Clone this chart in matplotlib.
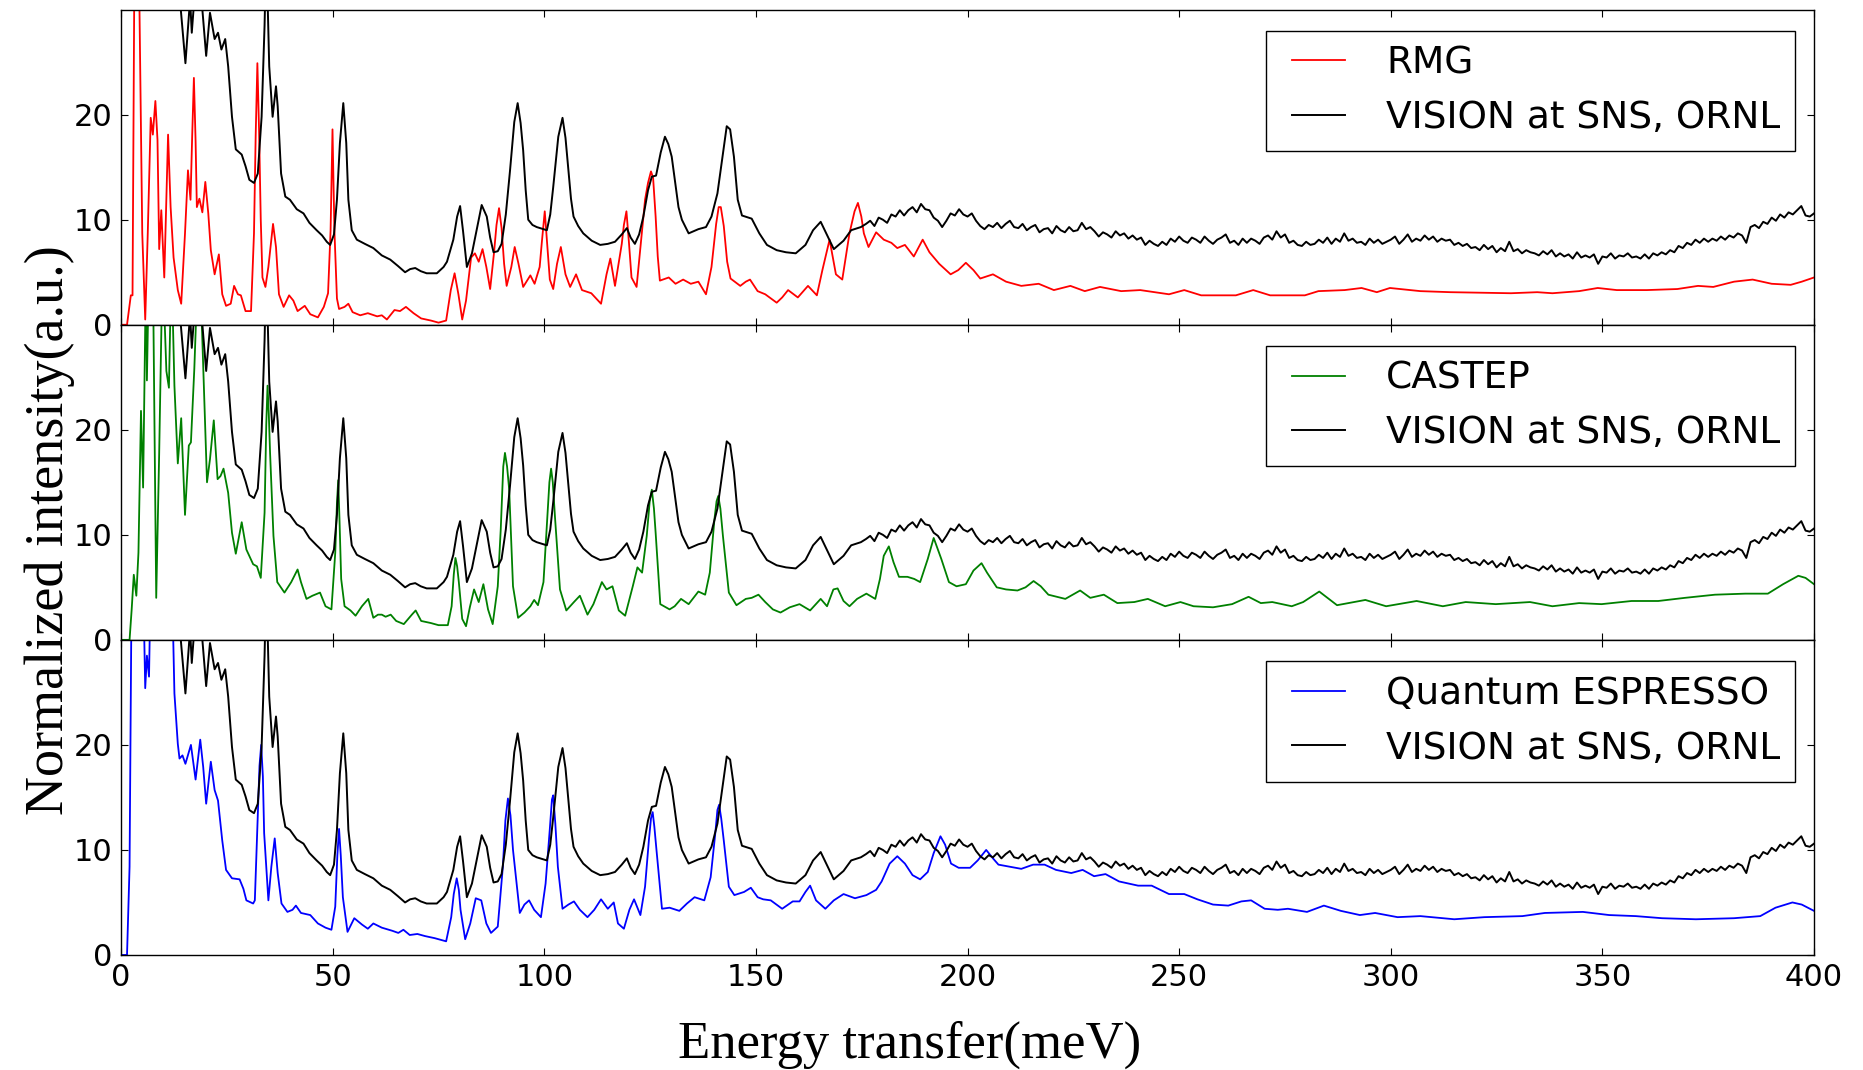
import matplotlib
matplotlib.use("Agg")
import matplotlib.pyplot as plt

# ---------------------------------------------------------------------------
# Measured INS spectrum (VISION at SNS, ORNL): (energy meV, intensity a.u.)
# ---------------------------------------------------------------------------
vision_low = [
    (12.5, 40.0), (14.0, 30.5), (15.2, 24.9), (16.3, 31.0), (16.7, 27.8), (17.3, 31.0),
    (19.0, 31.0), (20.1, 25.6), (21.0, 29.7), (22.1, 27.2), (22.9, 27.8), (23.7, 26.2),
    (24.6, 27.2), (25.3, 24.6), (26.2, 19.8), (27.1, 16.7), (28.5, 16.2), (29.4, 15.1),
    (30.3, 13.8), (31.4, 13.5), (32.3, 14.4), (33.2, 19.8), (33.9, 28.5), (34.3, 36.0),
    (35.0, 24.6), (35.8, 19.8), (36.6, 22.7), (37.0, 20.8), (37.8, 14.4), (38.8, 12.2),
    (39.9, 11.9), (41.5, 11.0), (43.1, 10.6), (44.5, 9.7), (46.2, 9.0), (47.5, 8.5),
    (48.6, 7.9), (49.4, 7.6), (50.3, 8.6), (51.0, 11.9), (51.7, 17.3), (52.5, 21.1),
    (53.2, 17.3), (53.7, 11.9), (54.5, 9.0), (55.7, 8.1), (57.6, 7.7), (59.6, 7.3),
    (61.6, 6.6), (63.6, 6.2), (65.4, 5.6), (67.1, 5.0), (68.3, 5.3), (69.5, 5.4),
    (70.8, 5.1), (72.2, 4.9), (74.6, 4.9), (76.2, 5.5), (77.0, 6.0), (78.5, 8.1),
    (79.4, 10.3), (80.1, 11.3), (80.8, 8.9), (81.7, 5.5), (82.9, 6.8), (84.0, 9.0),
    (85.2, 11.4), (86.4, 10.3), (87.2, 8.3), (88.0, 6.9), (89.0, 7.0), (89.9, 7.7),
    (90.9, 10.5), (91.9, 14.7), (92.9, 19.3), (93.7, 21.1), (94.4, 19.2), (95.0, 16.6),
    (95.6, 12.8), (96.2, 10.0), (97.2, 9.5), (98.2, 9.3), (100.6, 9.0), (101.4, 10.5),
    (102.1, 13.1), (103.3, 17.9), (104.3, 19.7), (105.0, 17.8), (105.7, 14.7), (106.3, 12.0),
    (106.9, 10.3), (108.0, 9.4), (109.2, 8.7), (111.2, 8.0), (113.2, 7.6), (115.0, 7.7),
    (116.7, 7.9), (118.3, 8.6), (119.5, 9.2), (120.4, 8.3), (121.4, 7.7), (122.4, 8.6),
    (123.4, 10.3), (124.5, 12.8), (125.4, 14.1), (126.4, 14.2), (127.5, 16.4), (128.5, 17.9),
    (129.3, 17.2), (130.1, 16.0), (130.9, 13.6), (131.7, 11.2), (132.5, 10.0), (134.1, 8.7),
    (136.4, 9.1), (138.2, 9.3), (139.5, 10.3), (140.9, 12.5), (142.0, 15.7), (143.1, 18.9),
    (143.9, 18.6), (144.8, 16.0), (145.7, 11.9), (146.7, 10.4), (149.0, 10.1), (150.8, 8.7),
    (152.6, 7.6), (154.9, 7.1), (157.1, 6.9), (159.4, 6.8), (161.7, 7.6), (163.5, 9.0),
    (165.3, 9.8), (166.6, 8.7), (168.4, 7.2), (170.7, 8.0), (172.5, 9.0), (174.8, 9.3),
]

# 1 meV bins from 176 to 400 meV
vision_high_e = list(range(176, 401))
vision_high_i = [
    9.6, 9.9, 9.4, 10.2, 10.0, 9.7, 10.5, 10.3, 10.9, 10.4,
    10.9, 11.2, 10.7, 11.5, 11.0, 10.9, 10.2, 9.9, 9.3, 9.9,
    10.6, 10.4, 11.0, 10.5, 10.3, 10.6, 9.9, 9.4, 9.1, 9.5,
    9.3, 9.7, 9.2, 9.6, 9.9, 9.3, 9.2, 9.6, 9.0, 9.3,
    9.5, 8.8, 9.1, 9.2, 8.7, 9.4, 9.0, 8.8, 9.3, 8.9,
    9.0, 9.7, 9.1, 9.3, 8.9, 8.4, 8.8, 8.6, 8.3, 8.9,
    8.5, 8.7, 8.2, 8.5, 8.1, 8.3, 7.6, 8.0, 7.7, 7.5,
    7.9, 7.6, 8.2, 7.9, 8.4, 8.0, 7.8, 8.3, 8.1, 7.8,
    8.4, 8.0, 7.7, 8.1, 8.3, 8.6, 7.8, 8.0, 7.6, 8.2,
    7.8, 8.2, 8.0, 7.7, 8.3, 8.5, 8.1, 8.9, 8.3, 8.6,
    7.8, 8.0, 7.6, 7.5, 7.9, 7.6, 7.7, 8.1, 7.8, 8.3,
    7.7, 8.2, 7.9, 8.7, 8.0, 8.2, 7.8, 7.9, 7.6, 8.2,
    7.8, 8.1, 7.7, 7.9, 8.1, 8.4, 7.7, 8.1, 8.6, 7.9,
    8.2, 8.0, 8.5, 8.1, 8.4, 7.9, 8.2, 8.0, 8.1, 7.6,
    7.8, 7.5, 7.7, 7.3, 7.4, 7.1, 7.6, 7.2, 7.5, 6.9,
    7.3, 7.0, 7.9, 7.0, 7.2, 6.8, 7.1, 6.9, 6.8, 6.6,
    7.0, 6.7, 7.1, 6.5, 6.8, 6.5, 6.7, 6.3, 6.9, 6.4,
    6.6, 6.4, 6.7, 5.8, 6.5, 6.4, 6.8, 6.3, 6.6, 6.5,
    6.8, 6.4, 6.5, 6.3, 6.7, 6.3, 6.8, 6.6, 6.9, 6.7,
    7.1, 6.9, 7.5, 7.3, 7.8, 7.6, 8.1, 7.8, 8.2, 7.9,
    8.2, 8.0, 8.4, 8.1, 8.5, 8.3, 8.7, 8.5, 7.8, 9.3,
    9.5, 9.2, 9.8, 9.6, 10.2, 9.9, 10.5, 10.2, 10.7, 10.5,
    10.9, 11.3, 10.4, 10.3, 10.6]

# ---------------------------------------------------------------------------
# Simulated spectra: (energy meV, intensity a.u.)
# ---------------------------------------------------------------------------
rmg = [
    (0.0, 0.0), (1.4, 0.0), (2.3, 2.8), (2.7, 2.8), (3.2, 38.0), (4.1, 38.0), (5.0, 8.7),
    (5.7, 0.5), (6.3, 8.7), (7.0, 19.7), (7.5, 18.1), (8.1, 21.3), (8.6, 17.6), (9.0, 7.2),
    (9.5, 10.9), (10.2, 4.5), (11.1, 18.1), (11.7, 11.2), (12.4, 6.4), (13.4, 3.3),
    (14.2, 2.0), (15.1, 8.7), (15.8, 14.7), (16.4, 11.9), (16.8, 18.0), (17.2, 23.5),
    (17.6, 17.5), (17.9, 11.2), (18.5, 12.0), (19.2, 10.7), (19.9, 13.6), (20.6, 10.6),
    (21.2, 7.1), (22.1, 4.8), (23.1, 6.7), (23.9, 2.9), (24.8, 1.8), (25.9, 2.0),
    (26.7, 3.7), (27.6, 2.9), (28.3, 2.8), (29.4, 1.3), (30.7, 1.3), (31.4, 8.7),
    (31.8, 18.0), (32.2, 24.9), (32.6, 18.5), (33.0, 10.0), (33.4, 4.5), (34.1, 3.6),
    (34.8, 5.5), (35.9, 9.6), (36.6, 7.4), (37.3, 2.9), (38.4, 1.7), (39.7, 2.8),
    (40.7, 2.3), (41.7, 1.3), (43.4, 1.8), (44.7, 1.0), (46.5, 0.7), (47.9, 1.7),
    (48.9, 3.0), (49.5, 9.0), (49.95, 18.6), (50.4, 9.0), (51.0, 2.5), (51.5, 1.5),
    (52.8, 1.7), (53.7, 2.0), (54.7, 1.2), (56.5, 0.9), (58.3, 1.1), (60.5, 0.8),
    (61.6, 0.9), (62.8, 0.5), (64.6, 1.4), (65.9, 1.3), (67.3, 1.7), (69.1, 1.1),
    (70.9, 0.6), (73.2, 0.4), (75.0, 0.2), (76.8, 0.4), (77.9, 3.3), (78.8, 4.9),
    (79.7, 2.9), (80.6, 0.5), (81.5, 2.3), (82.7, 6.4), (83.6, 6.8), (84.5, 6.0),
    (85.4, 7.2), (86.3, 5.5), (87.2, 3.4), (88.1, 6.8), (88.7, 9.5), (89.3, 11.1),
    (89.9, 9.2), (90.5, 5.8), (91.1, 3.7), (92.2, 5.5), (93.0, 7.4), (93.9, 5.8),
    (95.0, 3.6), (96.7, 4.7), (97.7, 3.9), (98.9, 5.5), (99.4, 7.8), (100.1, 10.8),
    (100.7, 7.5), (101.3, 4.3), (102.1, 3.4), (103.0, 5.8), (103.9, 7.4), (105.0, 4.8),
    (106.1, 3.6), (107.5, 4.8), (108.9, 3.3), (111.1, 3.0), (113.4, 2.0), (114.7, 4.8),
    (115.6, 6.3), (116.7, 3.7), (118.3, 7.7), (118.8, 9.5), (119.4, 10.8), (120.0, 7.8),
    (120.6, 4.5), (121.8, 3.6), (123.8, 11.9), (124.5, 13.5), (125.2, 14.6), (125.7, 14.0),
    (126.3, 10.3), (126.8, 6.5), (127.3, 4.2), (129.4, 4.5), (131.0, 3.9), (132.8, 4.3),
    (134.6, 3.9), (136.4, 4.1), (138.2, 2.9), (139.5, 5.5), (140.6, 9.6), (141.2, 11.2),
    (141.7, 11.2), (142.4, 9.4), (143.2, 6.0), (144.0, 4.4), (146.3, 3.7), (147.6, 4.1),
    (148.6, 4.3), (150.4, 3.2), (152.2, 2.9), (154.9, 2.1), (156.2, 2.6), (157.6, 3.3),
    (159.9, 2.6), (162.3, 3.7), (164.4, 2.8), (165.7, 5.2), (167.4, 8.1), (168.9, 4.8),
    (170.4, 4.3), (172.1, 8.7), (173.3, 10.8), (174.1, 11.6), (174.9, 10.3), (175.5, 8.7),
    (176.6, 7.4), (178.4, 8.8), (180.2, 8.1), (182.0, 7.8), (183.4, 7.3), (185.2, 7.6),
    (187.3, 6.5), (189.4, 8.1), (191.0, 6.9), (193.3, 5.8), (196.0, 4.8), (197.8, 5.2),
    (199.6, 5.9), (201.4, 5.2), (203.0, 4.4), (206.0, 4.8), (209.1, 4.1), (212.7, 3.7),
    (216.8, 3.9), (220.4, 3.3), (224.3, 3.7), (227.7, 3.2), (231.3, 3.6), (236.3, 3.2),
    (240.8, 3.3), (247.6, 2.9), (251.2, 3.3), (255.2, 2.8), (258.9, 2.8), (263.4, 2.8),
    (267.5, 3.3), (271.5, 2.8), (279.7, 2.8), (282.9, 3.2), (289.1, 3.3), (293.1, 3.5),
    (296.7, 3.1), (299.8, 3.5), (307.0, 3.2), (314.1, 3.1), (328.4, 3.0), (334.6, 3.1),
    (338.2, 3.0), (344.5, 3.2), (348.9, 3.5), (353.4, 3.3), (360.5, 3.3), (367.7, 3.4),
    (372.6, 3.7), (376.2, 3.6), (381.1, 4.1), (385.5, 4.3), (390.0, 3.9), (394.5, 3.8),
    (397.1, 4.1), (400.0, 4.5),
]

castep = [
    (0.0, 0.0), (2.0, 0.0), (2.5, 2.9), (3.0, 6.2), (3.6, 4.2), (4.1, 8.3), (4.7, 21.8),
    (5.2, 14.5), (5.9, 36.0), (6.1, 24.7), (6.6, 36.0), (7.5, 36.0), (8.3, 4.0),
    (9.0, 17.8), (9.8, 36.0), (10.7, 25.6), (11.3, 24.0), (11.9, 36.0), (12.6, 24.2),
    (13.4, 16.8), (14.2, 21.1), (15.1, 11.9), (16.0, 18.5), (16.5, 18.8), (17.3, 25.8),
    (18.2, 36.0), (19.0, 31.0), (20.3, 15.0), (21.0, 17.2), (21.9, 20.9), (22.8, 15.3),
    (23.5, 15.6), (24.2, 16.3), (25.3, 14.0), (26.2, 10.2), (27.1, 8.2), (28.5, 11.2),
    (29.6, 8.6), (31.2, 7.2), (32.1, 7.0), (33.0, 5.9), (33.9, 12.1), (34.3, 20.5),
    (34.6, 24.2), (34.9, 21.5), (35.2, 17.8), (36.0, 9.9), (36.9, 5.5), (38.6, 4.5),
    (40.2, 5.5), (41.7, 6.7), (42.5, 5.5), (43.8, 3.9), (45.2, 4.2), (47.0, 4.5),
    (48.3, 3.2), (49.7, 2.9), (50.6, 8.3), (51.0, 13.0), (51.3, 15.2), (51.6, 11.5),
    (52.0, 5.8), (52.8, 3.2), (54.2, 2.8), (55.4, 2.3), (56.9, 3.2), (58.4, 3.9),
    (59.6, 2.1), (60.7, 2.4), (61.6, 2.4), (62.5, 2.2), (63.7, 2.4), (65.0, 1.8),
    (66.8, 1.5), (68.7, 2.4), (69.6, 2.8), (70.9, 1.8), (73.2, 1.6), (75.0, 1.4),
    (77.2, 1.4), (78.1, 3.2), (78.6, 6.2), (79.0, 7.8), (79.4, 7.0), (79.8, 5.5),
    (80.6, 2.0), (81.5, 1.3), (82.4, 3.1), (83.4, 4.8), (84.5, 3.6), (85.6, 5.3),
    (86.7, 2.9), (87.8, 1.5), (89.0, 5.1), (89.7, 10.5), (90.3, 16.5), (90.7, 17.8),
    (91.2, 16.5), (91.7, 14.3), (92.6, 5.1), (93.8, 2.1), (95.3, 2.6), (96.7, 3.2),
    (97.6, 3.8), (98.5, 3.3), (99.8, 5.5), (100.7, 11.5), (101.2, 15.0), (101.6, 16.3),
    (102.0, 15.0), (102.5, 11.8), (103.7, 4.8), (105.2, 2.8), (107.0, 3.6), (108.4, 4.2),
    (110.2, 2.4), (111.6, 3.4), (113.6, 5.5), (114.7, 4.8), (116.1, 5.1), (117.6, 2.8),
    (119.1, 2.3), (120.9, 5.1), (122.0, 6.9), (123.1, 6.4), (124.2, 9.9), (124.9, 13.2),
    (125.4, 14.3), (125.9, 12.5), (126.3, 10.2), (127.4, 3.4), (129.6, 2.9), (130.8, 3.2),
    (132.3, 3.9), (134.1, 3.4), (136.4, 4.6), (138.0, 4.3), (139.1, 6.4), (140.2, 11.5),
    (140.7, 13.2), (141.1, 13.7), (141.6, 12.5), (142.2, 9.9), (143.6, 4.5), (145.4, 3.3),
    (147.6, 3.9), (149.0, 4.0), (150.6, 4.3), (152.2, 3.6), (154.0, 2.9), (155.8, 2.6),
    (158.0, 3.1), (160.3, 3.4), (162.8, 2.8), (165.3, 3.9), (166.8, 3.2), (168.3, 4.8),
    (169.3, 4.9), (170.7, 3.7), (172.1, 3.2), (173.9, 3.9), (176.1, 4.4), (178.2, 3.9),
    (179.3, 5.8), (180.2, 8.0), (181.4, 8.9), (182.5, 7.4), (183.8, 6.0), (185.8, 6.0),
    (187.4, 5.8), (188.8, 5.5), (190.6, 7.7), (192.0, 9.7), (193.8, 7.7), (195.6, 5.5),
    (197.4, 5.1), (199.6, 5.3), (201.4, 6.6), (203.3, 7.3), (204.6, 6.4), (206.9, 5.0),
    (209.1, 4.8), (211.8, 4.7), (213.7, 5.0), (215.6, 5.6), (217.3, 5.1), (219.1, 4.3),
    (223.1, 3.9), (226.6, 4.7), (229.0, 4.0), (232.2, 4.3), (235.4, 3.5), (239.4, 3.6),
    (242.6, 3.9), (246.7, 3.2), (250.3, 3.6), (253.4, 3.2), (258.0, 3.1), (262.5, 3.4),
    (266.4, 4.1), (269.3, 3.5), (272.0, 3.6), (276.6, 3.2), (279.3, 3.6), (283.1, 4.6),
    (287.3, 3.3), (294.0, 3.8), (298.9, 3.2), (306.1, 3.7), (312.3, 3.2), (317.7, 3.6),
    (324.8, 3.4), (332.9, 3.6), (338.2, 3.2), (344.5, 3.5), (349.8, 3.4), (356.9, 3.7),
    (363.2, 3.7), (369.5, 4.0), (376.6, 4.3), (383.8, 4.4), (389.1, 4.4), (392.7, 5.3),
    (396.3, 6.1), (398.0, 5.9), (400.0, 5.3),
]

quantum_espresso = [
    (0.0, 0.0), (1.4, 0.0), (2.0, 8.4), (2.5, 36.0), (5.2, 36.0), (5.7, 25.4), (6.1, 28.5),
    (6.6, 26.5), (7.0, 36.0), (12.0, 36.0), (12.6, 24.9), (13.4, 20.1), (13.8, 18.7),
    (14.5, 19.0), (15.2, 18.2), (16.5, 20.0), (17.6, 16.7), (18.7, 20.5), (19.4, 17.9),
    (20.1, 14.4), (21.2, 18.4), (22.1, 15.7), (22.9, 14.7), (23.9, 10.9), (24.8, 8.1),
    (26.2, 7.3), (28.0, 7.2), (28.9, 6.3), (29.6, 5.2), (31.2, 4.9), (31.6, 5.2),
    (32.3, 13.2), (32.7, 18.0), (33.1, 20.0), (33.5, 17.0), (33.8, 11.6), (34.8, 5.2),
    (35.5, 8.4), (36.3, 11.1), (37.0, 7.8), (37.9, 4.9), (39.3, 4.1), (40.5, 4.3),
    (41.3, 4.7), (42.5, 4.0), (44.7, 3.8), (46.5, 3.0), (48.3, 2.6), (49.7, 2.4),
    (50.6, 4.6), (51.1, 9.5), (51.5, 12.0), (51.9, 9.5), (52.4, 5.5), (53.5, 2.2),
    (55.1, 3.5), (56.9, 2.9), (58.3, 2.5), (59.6, 3.0), (61.6, 2.6), (64.1, 2.3),
    (65.5, 2.1), (66.7, 2.4), (68.2, 1.9), (70.0, 2.0), (71.8, 1.8), (74.1, 1.6),
    (76.8, 1.3), (78.0, 3.6), (78.6, 5.8), (79.3, 7.3), (79.8, 6.2), (80.2, 4.3),
    (81.3, 1.5), (82.5, 3.0), (83.8, 5.4), (85.1, 5.2), (86.3, 3.0), (87.4, 2.1),
    (89.0, 2.7), (90.2, 8.4), (90.8, 12.8), (91.4, 14.9), (92.0, 13.3), (92.6, 10.0),
    (94.2, 4.0), (95.3, 4.8), (96.4, 5.2), (97.6, 4.3), (99.2, 3.6), (100.3, 6.8),
    (101.3, 12.0), (101.8, 14.8), (102.1, 15.2), (102.6, 12.5), (103.2, 8.4), (104.3, 4.4),
    (105.7, 4.8), (107.0, 5.1), (108.4, 4.3), (110.2, 3.6), (111.8, 4.3), (113.4, 5.3),
    (115.0, 4.4), (116.4, 5.0), (117.4, 3.0), (118.8, 2.5), (120.1, 4.3), (121.2, 5.3),
    (122.7, 3.8), (123.8, 6.5), (124.7, 10.9), (125.2, 13.0), (125.6, 13.6), (126.0, 12.2),
    (126.5, 10.0), (127.8, 4.4), (129.6, 4.5), (131.9, 4.2), (133.7, 4.9), (135.5, 5.5),
    (137.8, 5.2), (139.3, 7.4), (140.4, 11.6), (140.9, 13.8), (141.3, 14.3), (141.8, 13.0),
    (142.4, 10.9), (143.6, 6.5), (144.9, 5.7), (147.2, 6.0), (148.8, 6.4), (150.4, 5.5),
    (151.7, 5.3), (153.5, 5.2), (156.2, 4.4), (158.7, 5.1), (160.3, 5.1), (161.7, 6.0),
    (162.8, 6.6), (164.2, 5.2), (166.4, 4.4), (168.4, 5.2), (170.7, 5.8), (173.4, 5.4),
    (176.1, 5.7), (178.4, 6.2), (179.7, 7.0), (181.6, 8.7), (183.4, 9.4), (185.2, 8.7),
    (187.0, 7.6), (188.8, 7.2), (190.6, 7.9), (192.0, 9.7), (193.6, 11.3), (194.7, 10.5),
    (196.1, 8.7), (197.9, 8.3), (200.6, 8.3), (202.4, 9.0), (204.4, 10.0), (206.0, 9.2),
    (207.3, 8.6), (210.0, 8.4), (212.7, 8.2), (215.5, 8.6), (218.2, 8.6), (220.9, 8.1),
    (224.5, 7.8), (227.2, 8.1), (229.9, 7.5), (232.6, 7.7), (235.8, 7.0), (240.3, 6.6),
    (243.5, 6.6), (247.6, 5.8), (251.2, 5.8), (254.3, 5.3), (258.0, 4.8), (261.6, 4.7),
    (264.7, 5.1), (267.0, 5.2), (270.2, 4.4), (273.3, 4.3), (275.7, 4.4), (280.2, 4.1),
    (284.2, 4.7), (288.2, 4.2), (292.7, 3.8), (296.3, 4.0), (301.6, 3.6), (307.0, 3.7),
    (315.0, 3.4), (322.1, 3.6), (331.1, 3.7), (336.4, 4.0), (345.4, 4.1), (351.6, 3.8),
    (357.9, 3.7), (364.1, 3.5), (372.1, 3.4), (381.1, 3.5), (387.3, 3.7), (390.9, 4.5),
    (394.9, 5.0), (397.1, 4.8), (400.0, 4.2),
]

vision_e = [p[0] for p in vision_low] + vision_high_e
vision_i = [p[1] for p in vision_low] + vision_high_i

panels = [
    ("RMG", "red", rmg),
    ("CASTEP", "green", castep),
    ("Quantum ESPRESSO", "blue", quantum_espresso),
]
vision_label = "VISION at SNS, ORNL"
x_ticks = [0, 50, 100, 150, 200, 250, 300, 350, 400]
y_ticks = [0, 10, 20]

fig = plt.figure(figsize=(18.63, 10.70), dpi=100)
axes = fig.subplots(3, 1, sharex=True, gridspec_kw=dict(hspace=0))
fig.subplots_adjust(left=0.065, right=0.9737, top=0.991, bottom=0.1075)

for ax, (name, color, points) in zip(axes, panels):
    e = [p[0] for p in points]
    i = [p[1] for p in points]
    ax.plot(e, i, color=color, lw=1.3, label=name, solid_joinstyle="round")
    ax.plot(vision_e, vision_i, color="black", lw=1.4, label=vision_label,
            solid_joinstyle="round")
    ax.set_xlim(0, 400)
    ax.set_ylim(0, 30)
    ax.set_xticks(x_ticks)
    ax.set_yticks(y_ticks)
    ax.tick_params(direction="in", top=True, right=True, length=5, width=0.8,
                   labelsize=22, pad=6)
    for sp in ax.spines.values():
        sp.set_linewidth(1.0)
    leg = ax.legend(loc="upper right", bbox_to_anchor=(1.0, 0.993), fontsize=27,
                    numpoints=2, handlelength=2.0, handletextpad=0.8,
                    borderpad=0.4, labelspacing=0.5, fancybox=False,
                    framealpha=1.0, borderaxespad=0.5)
    leg.get_frame().set_edgecolor("black")
    leg.get_frame().set_linewidth(1.0)

serif = ["Liberation Serif", "DejaVu Serif"]
fig.text(0.488, 0.0234, "Energy transfer(meV)", family=serif, fontsize=38,
         ha="center", va="center")
fig.text(0.0268, 0.505, "Normalized intensity(a.u.)", family=serif, fontsize=39,
         rotation=90, ha="center", va="center")

fig.savefig("out.png", dpi=100)
